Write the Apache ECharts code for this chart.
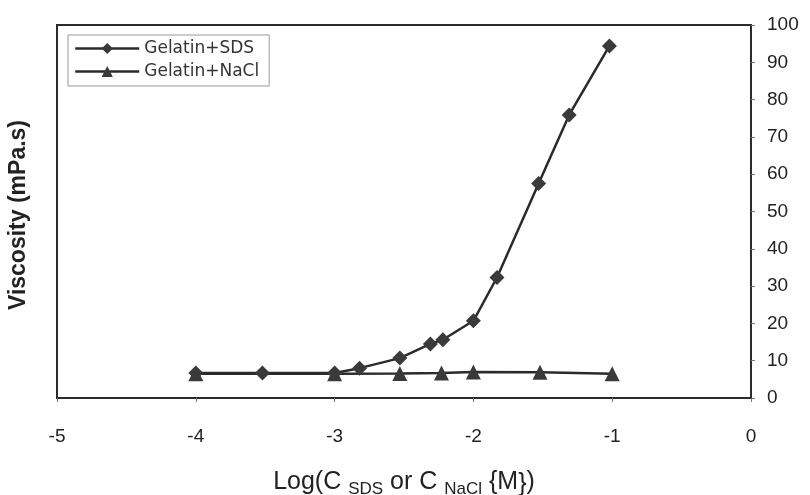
<!DOCTYPE html>
<html>
<head>
<meta charset="utf-8">
<script src="https://cdn.jsdelivr.net/npm/echarts@6/dist/echarts.min.js"></script>
<style>
  html, body { margin: 0; padding: 0; background: #fff; }
  #chart { width: 810px; height: 495px; }
</style>
</head>
<body>
<div id="chart"></div>
<script>
// log10 concentration (M) and viscosity (mPa.s)
const sdsLogC = [-4, -3.52, -3, -2.82, -2.53, -2.31, -2.22, -2.0, -1.83, -1.53, -1.31, -1.02];
const sdsVisc = [6.7, 6.7, 6.7, 8.0, 10.7, 14.5, 15.6, 20.7, 32.3, 57.5, 75.9, 94.4];
const naclLogC = [-4, -3, -2.53, -2.23, -2.0, -1.52, -1.0];
const naclVisc = [6.5, 6.5, 6.6, 6.7, 7.0, 6.9, 6.5];
const xTicks = [-5, -4, -3, -2, -1, 0];
const yTicks = [0, 10, 20, 30, 40, 50, 60, 70, 80, 90, 100];

const pair = (xs, ys) => xs.map((x, i) => [x, ys[i]]);
const ink = '#2b2b2b';
const font = '"Liberation Sans", Arial, sans-serif';

const chart = echarts.init(document.getElementById('chart'), null, { renderer: 'canvas' });
chart.setOption({
  backgroundColor: '#ffffff',
  animation: false,
  grid: {
    left: 57, right: 59, top: 25, bottom: 97,
    outerBoundsMode: 'none',
    containLabel: false,
    show: true, borderColor: ink, borderWidth: 2, backgroundColor: 'transparent'
  },
  legend: {
    orient: 'vertical',
    left: 68, top: 35,
    padding: [5, 10, 6, 6],
    itemGap: 6,
    itemWidth: 64, itemHeight: 14,
    borderColor: '#999', borderWidth: 1,
    lineStyle: { width: 2.5, color: ink },
    textStyle: { fontFamily: '"DejaVu Sans", sans-serif', fontSize: 17, color: '#333' },
    data: ['Gelatin+SDS', 'Gelatin+NaCl']
  },
  xAxis: {
    type: 'value', min: xTicks[0], max: xTicks[xTicks.length - 1], interval: 1,
    position: 'bottom',
    axisLine: { show: true, onZero: false, lineStyle: { color: ink, width: 2 } },
    axisTick: { show: true, length: 4, lineStyle: { color: '#777' } },
    splitLine: { show: false },
    axisLabel: { fontFamily: font, fontSize: 19, color: '#222', margin: 29 },
    name: '{a|Log(C }{s|SDS}{a| or C }{s|NaCl}{a| {M}}{a|)}',
    nameLocation: 'middle',
    nameGap: 72,
    nameTextStyle: {
      fontFamily: font, fontSize: 25, color: '#222',
      rich: {
        a: { fontFamily: font, fontSize: 25, color: '#222', verticalAlign: 'top', lineHeight: 28 },
        s: { fontFamily: font, fontSize: 17, color: '#222', verticalAlign: 'bottom', lineHeight: 28, padding: [12, 0, 0, 0] }
      }
    }
  },
  yAxis: {
    type: 'value', min: yTicks[0], max: yTicks[yTicks.length - 1], interval: 10,
    position: 'right',
    axisLine: { show: true, lineStyle: { color: ink, width: 2 } },
    axisTick: { show: true, length: 4, lineStyle: { color: '#777' } },
    splitLine: { show: false },
    axisLabel: { fontFamily: font, fontSize: 19, color: '#222', margin: 16 }
  },
  graphic: [{
    type: 'text',
    x: 19, y: 215,
    rotation: Math.PI / 2,
    style: {
      text: 'Viscosity (mPa.s)',
      fontFamily: font, fontSize: 23, fontWeight: 'bold', fill: '#222',
      align: 'center', verticalAlign: 'middle'
    }
  }],
  series: [
    {
      name: 'Gelatin+SDS',
      type: 'line',
      data: pair(sdsLogC, sdsVisc),
      symbol: 'diamond', symbolSize: 15,
      itemStyle: { color: '#3a3a3a' },
      lineStyle: { color: ink, width: 2.5 },
      z: 3
    },
    {
      name: 'Gelatin+NaCl',
      type: 'line',
      data: pair(naclLogC, naclVisc),
      symbol: 'triangle', symbolSize: 15,
      itemStyle: { color: '#3a3a3a' },
      lineStyle: { color: ink, width: 2.5 },
      z: 2
    }
  ]
});
</script>
</body>
</html>
